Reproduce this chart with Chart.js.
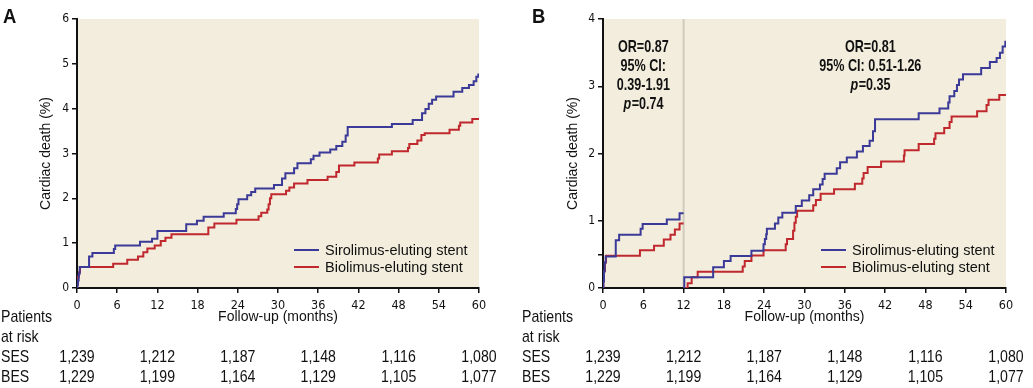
<!DOCTYPE html>
<html>
<head>
<meta charset="utf-8">
<script src="https://cdn.jsdelivr.net/npm/chart.js@4"></script>
<style>
  html, body { margin: 0; padding: 0; background: #fff; }
  #wrap { position: relative; width: 1033px; height: 388px; }
  canvas { position: absolute; top: 0; }
  #chartA { left: 0; }
  #chartB { left: 516px; }
</style>
</head>
<body>
<div id="wrap">
  <canvas id="chartA" width="516" height="388"></canvas>
  <canvas id="chartB" width="517" height="388"></canvas>
</div>
<script>
// Cardiac death, SES vs BES: (A) full follow-up, (B) landmark at 12 months.
// Each step: month of the event, cumulative % after it.

const riskMonths = [0, 12, 24, 36, 48, 60];
const riskSES = [1239, 1212, 1187, 1148, 1116, 1080];
const riskBES = [1229, 1199, 1164, 1129, 1105, 1077];

// Panel A
const sesMonthsA = [0, 0.05, 0.15, 0.25, 0.4, 1.8, 2.3, 5.5, 5.7, 9.4, 11.2, 12.0, 16.3, 17.9, 18.9,
  21.9, 23.7, 23.9, 24.1, 25.4, 26.0, 26.6, 29.4, 30.6, 31.1, 32.4, 32.9, 34.9, 35.3, 36.2, 37.8,
  38.7, 39.6, 40.1, 40.4, 47.0, 50.1, 51.5, 52.0, 52.5, 53.0, 53.6, 56.2, 57.5, 58.5, 59.2, 59.6,
  59.9, 60];
const sesPctA = [0, 0.08, 0.17, 0.32, 0.47, 0.70, 0.78, 0.87, 0.95, 1.03, 1.10, 1.27, 1.42, 1.50, 1.59,
  1.67, 1.76, 1.87, 1.98, 2.07, 2.14, 2.22, 2.30, 2.44, 2.56, 2.67, 2.78, 2.87, 2.95, 3.02, 3.09,
  3.17, 3.26, 3.40, 3.59, 3.66, 3.75, 3.90, 3.99, 4.11, 4.20, 4.27, 4.38, 4.46, 4.53, 4.61, 4.71,
  4.76, 4.76];
const besMonthsA = [0, 0.05, 0.15, 0.3, 0.45, 5.4, 7.5, 9.1, 9.9, 10.5, 11.6, 12.5, 13.2, 14.1, 19.6,
  20.5, 23.8, 27.1, 27.5, 28.4, 28.6, 28.8, 29.0, 31.2, 31.7, 32.4, 34.4, 37.4, 38.7, 39.1, 41.4,
  44.9, 45.1, 47.0, 49.4, 49.6, 50.8, 51.4, 51.9, 55.6, 57.0, 57.2, 59.0, 60];
const besPctA = [0, 0.10, 0.25, 0.35, 0.47, 0.54, 0.63, 0.70, 0.80, 0.88, 0.95, 1.05, 1.12, 1.20, 1.35,
  1.44, 1.52, 1.60, 1.68, 1.75, 1.87, 2.00, 2.09, 2.17, 2.24, 2.33, 2.41, 2.48, 2.59, 2.73, 2.80,
  2.89, 2.98, 3.05, 3.12, 3.21, 3.29, 3.41, 3.45, 3.53, 3.62, 3.69, 3.77, 3.77];

// Panel B, first year
const sesMonthsB1 = [0, 0.05, 0.15, 0.25, 0.4, 1.9, 2.4, 5.6, 5.9, 9.5, 11.4, 12];
const sesPctB1 = [0, 0.10, 0.25, 0.38, 0.47, 0.71, 0.79, 0.88, 0.95, 1.02, 1.11, 1.11];
const besMonthsB1 = [0, 0.05, 0.15, 0.3, 0.45, 5.5, 7.6, 9.05, 10.05, 10.7, 11.4, 12];
const besPctB1 = [0, 0.10, 0.25, 0.38, 0.48, 0.56, 0.63, 0.72, 0.79, 0.87, 0.96, 0.96];

// Panel B, after the 12-month landmark (restarts at 0)
const sesMonthsB2 = [12, 12.1, 16.4, 18.0, 19.0, 22.1, 23.9, 24.1, 24.3, 24.4, 25.6, 26.1, 26.7, 28.7,
  29.6, 30.7, 31.3, 32.3, 32.7, 33.0, 34.8, 35.3, 36.3, 37.8, 38.7, 39.7, 40.2, 40.5, 47.0, 50.1,
  51.4, 51.6, 52.3, 52.7, 53.0, 53.6, 56.3, 57.6, 58.6, 59.1, 59.5, 59.9, 60];
const sesPctB2 = [0, 0.16, 0.31, 0.40, 0.475, 0.555, 0.65, 0.73, 0.80, 0.88, 0.96, 1.05, 1.12, 1.22,
  1.30, 1.38, 1.47, 1.54, 1.62, 1.70, 1.78, 1.87, 1.94, 2.03, 2.11, 2.19, 2.33, 2.51, 2.60, 2.67,
  2.76, 2.85, 2.93, 3.02, 3.10, 3.18, 3.27, 3.36, 3.42, 3.50, 3.59, 3.66, 3.66];
const besMonthsB2 = [12, 12.6, 13.2, 14.1, 20.8, 21.1, 22.1, 23.9, 27.2, 27.4, 28.3, 28.5, 28.7, 28.9,
  31.3, 31.7, 32.4, 34.4, 37.5, 38.6, 38.8, 39.4, 41.4, 44.8, 44.9, 47.0, 49.3, 49.5, 50.8, 51.6,
  51.9, 55.7, 57.1, 57.4, 59.0, 60];
const besPctB2 = [0, 0.07, 0.16, 0.24, 0.32, 0.40, 0.485, 0.56, 0.65, 0.73, 0.85, 0.97, 1.06, 1.15,
  1.23, 1.31, 1.40, 1.47, 1.55, 1.63, 1.71, 1.80, 1.88, 1.97, 2.05, 2.14, 2.22, 2.30, 2.38, 2.47,
  2.55, 2.63, 2.72, 2.80, 2.87, 2.87];

const yTicksB = [0, 0.5, 1, 2, 3, 4];

// OR blocks in panel B, rows of text ("p" set in italics)
const statsLeft = ["OR=0.87", "95% CI:", "0.39-1.91", "p=0.74"];
const statsRight = ["OR=0.81", "95% CI: 0.51-1.26", "p=0.35"];

const SANS = "'Liberation Sans', Arial, sans-serif";
const COND = "'DejaVu Sans Condensed', 'Liberation Sans', sans-serif";
const INK = "#111";
const BLUE = "#3b3a98";
const RED = "#c0282e";
const BG = "#f2eddc";

const pts = (months, pct) => months.map((m, i) => ({ x: m, y: pct[i] }));
const fmtN = (n) => n.toLocaleString("en-US");

// the original uses a condensed face; squeeze Liberation Sans with maxWidth
function fillNarrow(ctx, text, x, y, k) {
  ctx.fillText(text, x, y, ctx.measureText(text).width * k);
}

function drawStatLine(ctx, text, cx, y) {
  const k = 0.74;
  const bold = `bold 17px ${SANS}`;
  const ital = `italic bold 17px ${SANS}`;
  if (!text.startsWith("p=")) {
    ctx.font = bold;
    ctx.textAlign = "center";
    fillNarrow(ctx, text, cx, y, k);
    return;
  }
  const rest = text.slice(1);
  ctx.font = ital;
  const w1 = ctx.measureText("p").width * k;
  ctx.font = bold;
  const w2 = ctx.measureText(rest).width * k;
  const x0 = cx - (w1 + w2) / 2;
  ctx.textAlign = "left";
  ctx.font = ital;
  ctx.fillText("p", x0, y, w1);
  ctx.font = bold;
  ctx.fillText(rest, x0 + w1 + 0.5, y, w2);
}

function panelPlugin(cfg) {
  return {
    id: "panel" + cfg.letter,
    beforeDraw(chart) {
      const { ctx, chartArea: a } = chart;
      ctx.save();
      ctx.fillStyle = BG;
      ctx.fillRect(a.left, a.top, a.right - a.left, a.bottom - a.top);
      ctx.restore();
    },
    beforeDatasetsDraw(chart) {
      if (cfg.landmark == null) return;
      const { ctx, chartArea: a } = chart;
      const x = chart.scales.x.getPixelForValue(cfg.landmark);
      ctx.save();
      ctx.strokeStyle = "#cfcbbd";
      ctx.lineWidth = 2;
      ctx.beginPath();
      ctx.moveTo(x, a.top);
      ctx.lineTo(x, a.bottom - 1);
      ctx.stroke();
      ctx.restore();
    },
    afterDraw(chart) {
      const { ctx, chartArea: a } = chart;
      const xs = chart.scales.x;
      ctx.save();
      ctx.fillStyle = INK;

      // panel letter
      ctx.font = `bold 21px ${SANS}`;
      ctx.textAlign = "left";
      ctx.textBaseline = "alphabetic";
      fillNarrow(ctx, cfg.letter, cfg.letterX, 23, 0.88);

      // legend, bottom right of the plot
      ctx.textBaseline = "middle";
      ctx.font = `14.5px ${SANS}`;
      chart.data.datasets.forEach((ds, i) => {
        const y = a.bottom - 38 + i * 17;
        ctx.strokeStyle = ds.borderColor;
        ctx.lineWidth = 2;
        ctx.beginPath();
        ctx.moveTo(a.right - 185, y);
        ctx.lineTo(a.right - 160, y);
        ctx.stroke();
        ctx.fillText(ds.label, a.right - 154, y + 1);
      });

      // patients at risk
      const k = 0.83;
      ctx.font = `17px ${SANS}`;
      ctx.textAlign = "left";
      fillNarrow(ctx, "Patients", cfg.tableX, 317, k);
      fillNarrow(ctx, "at risk", cfg.tableX, 337, k);
      fillNarrow(ctx, "SES", cfg.tableX, 357, k);
      fillNarrow(ctx, "BES", cfg.tableX, 377, k);
      ctx.textAlign = "center";
      riskMonths.forEach((m, i) => {
        const x = xs.getPixelForValue(m);
        fillNarrow(ctx, fmtN(riskSES[i]), x, 357, k);
        fillNarrow(ctx, fmtN(riskBES[i]), x, 377, k);
      });

      // OR / CI / p blocks
      ctx.textBaseline = "middle";
      (cfg.stats || []).forEach((blk) => {
        const cx = xs.getPixelForValue(blk.month);
        blk.lines.forEach((t, i) => drawStatLine(ctx, t, cx, a.top + 28 + i * 19));
      });
      ctx.restore();
    },
  };
}

function makeChart(id, cfg) {
  const yScale = {
    type: "linear",
    min: 0,
    max: cfg.yMax,
    afterFit: (s) => { s.width = cfg.yWidth; },
    ticks: {
      stepSize: 1,
      color: INK,
      padding: 3,
      font: { family: COND, size: 12 },
      callback: (v) => (Number.isInteger(v) ? v : ""),
    },
    grid: { drawOnChartArea: false, drawTicks: true, tickLength: 5, color: INK, lineWidth: 1.5 },
    border: { display: true, color: INK, width: 2 },
    title: {
      display: true,
      text: "Cardiac death (%)",
      color: INK,
      font: { family: SANS, size: 14 },
      padding: { top: cfg.titlePad, bottom: 0 },
    },
  };
  if (cfg.yTicks) yScale.afterBuildTicks = (s) => { s.ticks = cfg.yTicks.map((v) => ({ value: v })); };

  return new Chart(document.getElementById(id), {
    type: "line",
    data: {
      datasets: [
        { label: "Sirolimus-eluting stent", data: cfg.ses, borderColor: BLUE },
        { label: "Biolimus-eluting stent", data: cfg.bes, borderColor: RED },
      ].map((d) => ({
        ...d,
        stepped: true,
        borderWidth: 2,
        pointRadius: 0,
        fill: false,
        spanGaps: false,
      })),
    },
    options: {
      responsive: false,
      animation: false,
      devicePixelRatio: 1,
      layout: { padding: { left: 0, top: 19, right: cfg.padRight, bottom: 60 } },
      plugins: { legend: { display: false }, tooltip: { enabled: false } },
      scales: {
        x: {
          type: "linear",
          min: 0,
          max: 60,
          afterFit: (s) => { s.height = 40; },
          ticks: { stepSize: 6, color: INK, padding: 5, maxRotation: 0, font: { family: COND, size: 12.5 } },
          grid: { drawOnChartArea: false, drawTicks: true, tickLength: 5, color: INK, lineWidth: 1.5 },
          border: { display: true, color: INK, width: 2 },
          title: {
            display: true,
            text: "Follow-up (months)",
            color: INK,
            font: { family: SANS, size: 14 },
            padding: { top: 0, bottom: 2 },
          },
        },
        y: yScale,
      },
    },
    plugins: [panelPlugin(cfg)],
  });
}

makeChart("chartA", {
  letter: "A",
  letterX: 3,
  tableX: 1,
  yMax: 6,
  yWidth: 77,
  titlePad: 38,
  padRight: 37,
  ses: pts(sesMonthsA, sesPctA),
  bes: pts(besMonthsA, besPctA),
});

makeChart("chartB", {
  letter: "B",
  letterX: 16,
  tableX: 6,
  yMax: 4,
  yWidth: 87,
  yTicks: yTicksB,
  titlePad: 49,
  padRight: 27,
  landmark: 12,
  ses: [...pts(sesMonthsB1, sesPctB1), { x: 12, y: null }, ...pts(sesMonthsB2, sesPctB2)],
  bes: [...pts(besMonthsB1, besPctB1), { x: 12, y: null }, ...pts(besMonthsB2, besPctB2)],
  stats: [
    { month: 6, lines: statsLeft },
    { month: 39.8, lines: statsRight },
  ],
});
</script>
</body>
</html>
